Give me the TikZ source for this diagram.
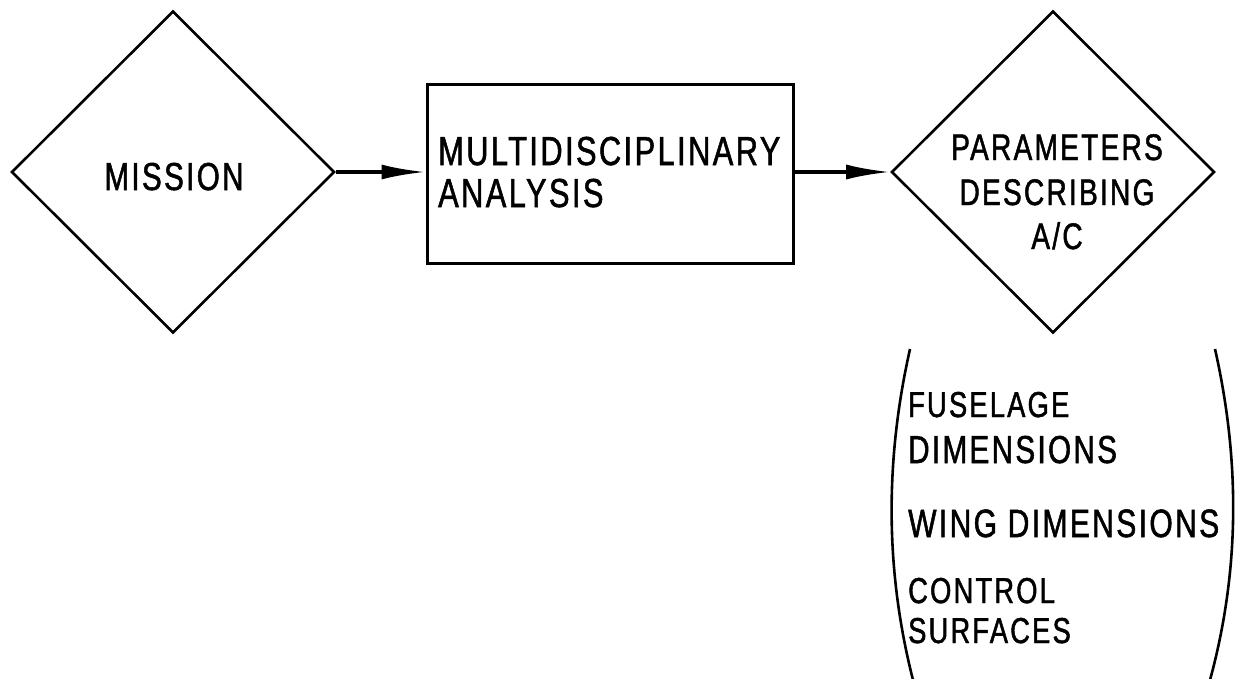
\documentclass[tikz,border=0pt]{standalone}
\usepackage{fontspec}
\setmainfont{Liberation Sans}[FakeStretch=0.76,LetterSpace=6,FakeBold=1.3]
\usetikzlibrary{shapes.geometric,arrows.meta}
\begin{document}
\begin{tikzpicture}[x=1pt,y=-1pt,
  dia/.style={draw,shape=diamond,line width=2.6pt,minimum width=323pt,minimum height=322pt,inner sep=0pt},
  boxnode/.style={draw,rectangle,line width=3pt,minimum width=366pt,minimum height=179pt,inner sep=0pt},
  txt/.style={inner sep=0pt,font=\fontsize{#1}{#1}\selectfont},
  conn/.style={line width=3.5pt,-{Latex[length=44pt,width=15pt]}},
  paren/.style={line width=2.6pt}]
\useasboundingbox (0,0) rectangle (1239,678);
\node[dia] (mission) at (173,172) {};
\node[boxnode] (mda) at (610,173.5) {};
\node[dia] (params) at (1053,172) {};
\node[txt=39,anchor=base] (tmission) at (174,190) {MISSION};
\node[txt=40.5,anchor=base west] (tm1) at (438,165) {MULTIDISCIPLINARY};
\node[txt=40.5,anchor=base west] (tm2) at (438,207) {ANALYSIS};
\node[txt=37,anchor=base] (tp1) at (1057,160) {PARAMETERS};
\node[txt=37,anchor=base] (tp2) at (1057,205) {DESCRIBING};
\node[txt=37,anchor=base] (tp3) at (1057,249) {A/C};
\node[txt=36,anchor=base west] (l1) at (908,417) {FUSELAGE};
\node[txt=39,anchor=base west] (l2) at (908,463) {DIMENSIONS};
\node[txt=39.5,anchor=base west] (l3) at (908,537) {WING DIMENSIONS};
\node[txt=36,anchor=base west] (l4) at (908,603) {CONTROL};
\node[txt=36,anchor=base west] (l5) at (908,643) {SURFACES};
\draw[conn] (mission.east) -- (mission.east -| mda.west);
\draw[conn] (mda.east |- params.west) -- (params.west);
\coordinate (lpt) at (910,349);
\coordinate (lpb) at (913,680);
\coordinate (rpt) at (1215,349);
\coordinate (rpb) at (1210,680);
\draw[paren] (lpt) .. controls (885,460) and (885,570) .. (lpb);
\draw[paren] (rpt) .. controls (1240,460) and (1240,570) .. (rpb);
\end{tikzpicture}
\end{document}
